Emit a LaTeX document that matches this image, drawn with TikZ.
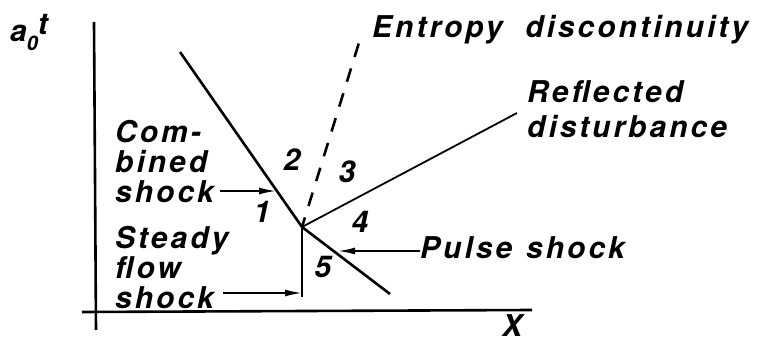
\documentclass[tikz,border=0pt]{standalone}
\usepackage{fontspec}
\setmainfont{TeX Gyre Heros}
\newfontfamily\lettering[LetterSpace=10]{TeX Gyre Heros}
\usetikzlibrary{arrows.meta}

\tikzset{
  lbl/.style={font=\lettering\bfseries\itshape\fontsize{30}{30}\selectfont,
              inner sep=0pt, align=left},
  axis/.style={line width=2.6pt},
  shock/.style={line width=2.6pt},
  ptr/.style={line width=1.8pt, -{Latex[length=17pt,width=7pt]}},
}

\begin{document}
\begin{tikzpicture}[x=1pt,y=-1pt]
\useasboundingbox (0,0) rectangle (758,344);
% axes
\coordinate (ytop) at (94,22);
\coordinate (ybot) at (96,330);
\coordinate (xl) at (82,312);
\coordinate (xr) at (532,310);
\draw[axis] (ytop) -- (ybot);
\draw[axis] (xl) -- (xr);
\node[lbl, anchor=base west] (tlab) at (10,42) {a\raisebox{-9pt}{\fontsize{20}{20}\selectfont 0}\raisebox{7pt}{t}};
\node[lbl, anchor=base west] (xlab) at (502,337) {X};

% wave diagram
\coordinate (corner) at (302,227);
\coordinate (cstop) at (180,52);
\coordinate (psend) at (390,294);
\coordinate (sfend) at (302,297);
\coordinate (rdend) at (517,113);
\coordinate (edtop) at (362,33);
\draw[shock] (cstop) -- (corner) -- (psend);
\draw[shock] (corner) -- (sfend);
\draw[line width=1.8pt] (corner) -- (rdend);
\draw[shock, dash pattern=on 14pt off 12pt, dash phase=4pt] (corner) -- (edtop);

% region numbers
\node[lbl] (r1) at (262,212) {1};
\node[lbl] (r2) at (292,160) {2};
\node[lbl] (r3) at (347,172) {3};
\node[lbl] (r4) at (360,222) {4};
\node[lbl] (r5) at (323,267) {5};

% labels
\node[lbl, anchor=base west] (ent) at (372,38) {Entropy \ discontinuity};
\node[lbl, anchor=north west] (refl) at (527,80) {Reflected\\[5pt]disturbance};
\node[lbl, anchor=north west] (comb) at (115,120) {Com-\\bined\\shock};
\node[lbl, anchor=north west] (steady) at (115,226) {Steady\\flow\\shock};
\node[lbl, anchor=base west] (pulse) at (420,259) {Pulse\hspace{14pt}shock};

% pointers
\coordinate (cstip) at (276,191);
\coordinate (sftip) at (302,293);
\coordinate (pstip) at (338,251);
\coordinate (csfrom) at (220,191);
\coordinate (sffrom) at (223,293);
\draw[ptr] (csfrom) -- (cstip);
\draw[ptr] (sffrom) -- (sftip);
\draw[ptr] (pulse.west |- pstip) -- (pstip);
\end{tikzpicture}
\end{document}
